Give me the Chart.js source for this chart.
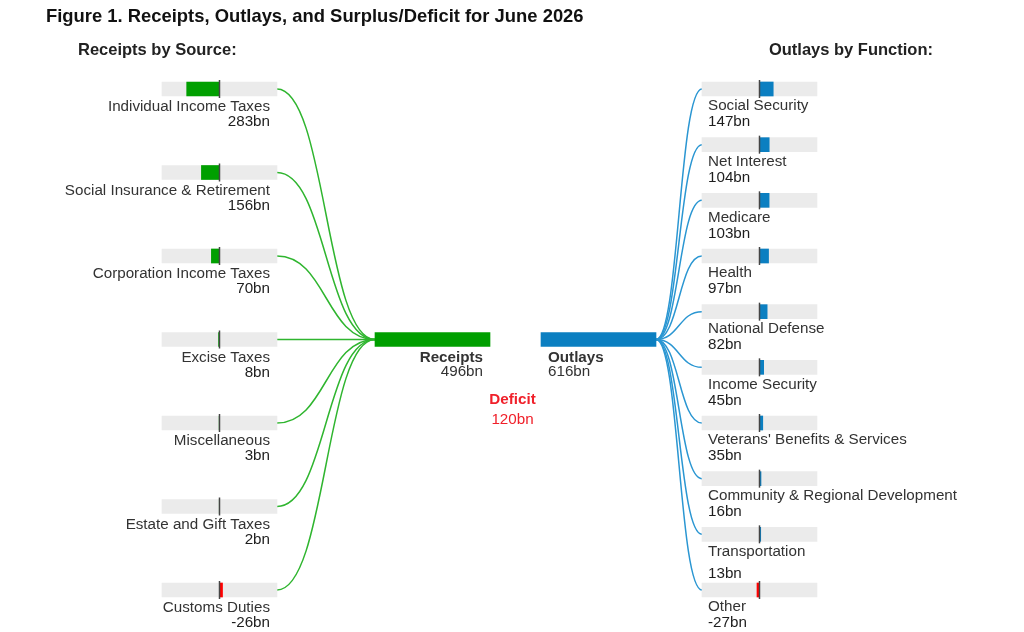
<!DOCTYPE html>
<html>
<head>
<meta charset="utf-8">
<script src="https://cdn.jsdelivr.net/npm/chart.js@4/dist/chart.umd.min.js"></script>
<style>
  html, body { margin: 0; padding: 0; background: #fff; }
  #wrap { position: relative; width: 1024px; height: 632px; }
</style>
</head>
<body>
<div id="wrap"><canvas id="flow"></canvas></div>
<script>
// data (billions of dollars)
const receiptLabels = ['Individual Income Taxes', 'Social Insurance & Retirement', 'Corporation Income Taxes',
    'Excise Taxes', 'Miscellaneous', 'Estate and Gift Taxes', 'Customs Duties'];
const receiptValues = [283, 156, 70, 8, 3, 2, -26];

const outlayLabels = ['Social Security', 'Net Interest', 'Medicare', 'Health', 'National Defense', 'Income Security',
    "Veterans' Benefits & Services", 'Community & Regional Development', 'Transportation', 'Other'];
const outlayValues = [147, 104, 103, 97, 82, 45, 35, 16, 13, -27];

const receiptsTotal = 496;
const outlaysTotal = 616;

const GREEN = '#009f00';
const GREEN_LINE = '#2fb52f';
const BLUE = '#0b7fc1';
const BLUE_LINE = '#2a96d2';
const RED = '#ff0000';
const TRACK = '#ebebeb';
const FONT = "'Liberation Sans', Arial, sans-serif";
const LABEL_FONT = '15.2px ' + FONT;
const LABEL_BOLD = 'bold 15.2px ' + FONT;

const fmt = v => v + 'bn';

// hidden x axes laid side by side (stacked) so every column has its own scale
function col(weight, extra) {
    return Object.assign({
        type: 'linear', display: false, position: 'bottom',
        stack: 'cols', stackWeight: weight, grid: { display: false }
    }, extra || {});
}

const flowPlugin = {
    id: 'flow',
    beforeDatasetsDraw(chart) {
        const { ctx, scales } = chart;
        const yc = scales.yC.getPixelForValue(0);
        ctx.save();
        ctx.lineWidth = 1.5;

        // receipts -> total
        const x0 = scales.xL.right, x1 = scales.xRc.left;
        ctx.strokeStyle = GREEN_LINE;
        receiptLabels.forEach((_, i) => {
            const y = scales.yL.getPixelForValue(i);
            const mx = (x0 + x1) / 2;
            ctx.beginPath();
            ctx.moveTo(x0, y);
            ctx.bezierCurveTo(mx, y, mx, yc, x1, yc);
            ctx.stroke();
        });

        // total -> outlays
        const x2 = scales.xOc.right, x3 = scales.xR.left;
        ctx.strokeStyle = BLUE_LINE;
        outlayLabels.forEach((_, i) => {
            const y = scales.yR.getPixelForValue(i);
            const mx = (x2 + x3) / 2;
            ctx.beginPath();
            ctx.moveTo(x2, yc);
            ctx.bezierCurveTo(mx, yc, mx, y, x3, y);
            ctx.stroke();
        });
        ctx.restore();
    },
    afterDatasetsDraw(chart) {
        const { ctx, scales } = chart;
        ctx.save();

        // zero ticks on the small bars
        ctx.strokeStyle = '#454545';
        ctx.lineWidth = 1.5;
        const tick = (x, y) => {
            ctx.beginPath();
            ctx.moveTo(x, y - 9);
            ctx.lineTo(x, y + 9);
            ctx.stroke();
        };
        receiptLabels.forEach((_, i) => tick(scales.xL.getPixelForValue(0), scales.yL.getPixelForValue(i)));
        outlayLabels.forEach((_, i) => tick(scales.xR.getPixelForValue(0), scales.yR.getPixelForValue(i)));

        ctx.textBaseline = 'middle';

        // receipts labels
        ctx.textAlign = 'right';
        ctx.font = LABEL_FONT;
        receiptLabels.forEach((name, i) => {
            const y = scales.yL.getPixelForValue(i);
            const x = scales.xL.right - 7;
            ctx.fillStyle = '#333333';
            ctx.fillText(name, x, y + 18);
            ctx.fillStyle = '#1e1e1e';
            ctx.fillText(fmt(receiptValues[i]), x, y + 33);
        });

        // outlays labels
        ctx.textAlign = 'left';
        outlayLabels.forEach((name, i) => {
            const y = scales.yR.getPixelForValue(i);
            const x = scales.xR.left + 6;
            const nudge = name === 'Transportation' ? 6 : 0;
            ctx.fillStyle = '#333333';
            ctx.fillText(name, x, y + 17);
            ctx.fillStyle = '#1e1e1e';
            ctx.fillText(fmt(outlayValues[i]), x, y + 33 + nudge);
        });

        // totals
        const yc = scales.yC.getPixelForValue(0);
        ctx.fillStyle = '#333333';
        ctx.textAlign = 'right';
        ctx.font = LABEL_BOLD;
        ctx.fillText('Receipts', scales.xRc.right - 7, yc + 18);
        ctx.font = LABEL_FONT;
        ctx.fillText(fmt(receiptsTotal), scales.xRc.right - 7, yc + 32);
        ctx.textAlign = 'left';
        ctx.font = LABEL_BOLD;
        ctx.fillText('Outlays', scales.xOc.left + 7, yc + 18);
        ctx.font = LABEL_FONT;
        ctx.fillText(fmt(outlaysTotal), scales.xOc.left + 7, yc + 32);

        const gap = outlaysTotal - receiptsTotal;
        const mid = (scales.xRc.right + scales.xOc.left) / 2 - 3;
        ctx.textAlign = 'center';
        ctx.fillStyle = gap > 0 ? '#f0202a' : GREEN;
        ctx.font = LABEL_BOLD;
        ctx.fillText(gap > 0 ? 'Deficit' : 'Surplus', mid, yc + 60);
        ctx.font = LABEL_FONT;
        ctx.fillText(fmt(Math.abs(gap)), mid, yc + 80);

        // headings
        ctx.fillStyle = '#111111';
        ctx.textAlign = 'left';
        ctx.font = 'bold 18.4px ' + FONT;
        ctx.fillText('Figure 1. Receipts, Outlays, and Surplus/Deficit for June 2026', 46, 17);
        ctx.font = 'bold 16.5px ' + FONT;
        ctx.fillStyle = '#222222';
        ctx.fillText('Receipts by Source:', 78, 50);
        ctx.textAlign = 'right';
        ctx.fillText('Outlays by Function:', 933, 50);
        ctx.restore();
    }
};

const barBase = { barThickness: 14, grouped: false, clip: false, borderWidth: 0 };

new Chart(document.getElementById('flow'), {
    type: 'bar',
    data: {
        datasets: [
            Object.assign({}, barBase, {
                label: 'Receipts', data: receiptValues, xAxisID: 'xL', yAxisID: 'yL', order: 1,
                backgroundColor: receiptValues.map(v => v < 0 ? RED : GREEN)
            }),
            Object.assign({}, barBase, {
                label: 'Receipts track', data: receiptValues.map(() => [-receiptsTotal, receiptsTotal]),
                xAxisID: 'xL', yAxisID: 'yL', order: 2, backgroundColor: TRACK
            }),
            Object.assign({}, barBase, {
                label: 'Outlays', data: outlayValues, xAxisID: 'xR', yAxisID: 'yR', order: 1,
                backgroundColor: outlayValues.map(v => v < 0 ? RED : BLUE)
            }),
            Object.assign({}, barBase, {
                label: 'Outlays track', data: outlayValues.map(() => [-outlaysTotal, outlaysTotal]),
                xAxisID: 'xR', yAxisID: 'yR', order: 2, backgroundColor: TRACK
            }),
            Object.assign({}, barBase, {
                label: 'Total receipts', data: [receiptsTotal], xAxisID: 'xRc', yAxisID: 'yC',
                order: 1, backgroundColor: GREEN
            }),
            Object.assign({}, barBase, {
                label: 'Total outlays', data: [outlaysTotal], xAxisID: 'xOc', yAxisID: 'yC',
                order: 1, backgroundColor: BLUE
            })
        ]
    },
    options: {
        indexAxis: 'y',
        responsive: true,
        maintainAspectRatio: false,
        animation: false,
        events: [],
        layout: { padding: { left: 162, right: 207, top: 89, bottom: 42 } },
        plugins: { legend: { display: false }, tooltip: { enabled: false } },
        scales: {
            xL: col(115, { weight: 1, min: -receiptsTotal, max: receiptsTotal, reverse: true }),
            g1: col(98, { weight: 2 }),
            xRc: col(115, { weight: 3, min: 0, max: receiptsTotal, reverse: true }),
            g2: col(51, { weight: 4 }),
            xOc: col(115, { weight: 5, min: 0, max: outlaysTotal }),
            g3: col(46, { weight: 6 }),
            xR: col(115, { weight: 7, min: -outlaysTotal, max: outlaysTotal }),
            yL: { type: 'category', labels: receiptLabels, display: false, offset: false, position: 'left' },
            yR: { type: 'category', labels: outlayLabels, display: false, offset: false, position: 'left' },
            yC: { type: 'category', labels: ['Total'], display: false, offset: true, position: 'left' }
        }
    },
    plugins: [flowPlugin]
});
</script>
</body>
</html>
